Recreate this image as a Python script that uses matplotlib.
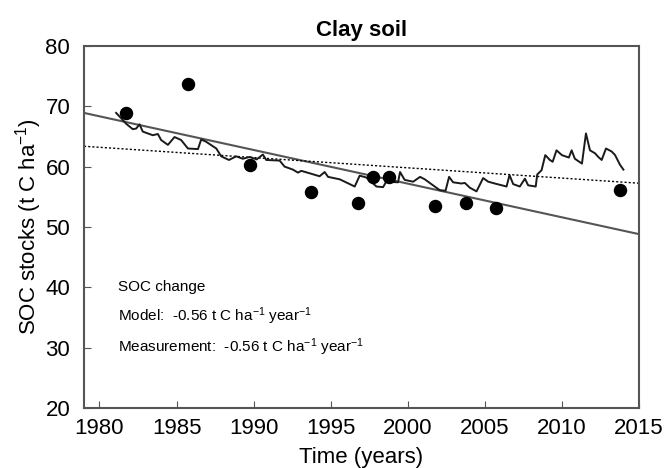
import numpy as np
import matplotlib
matplotlib.use("Agg")
import matplotlib.pyplot as plt

plt.rcParams['font.family'] = ['Liberation Sans', 'DejaVu Sans']
plt.rcParams['mathtext.fontset'] = 'custom'
plt.rcParams['mathtext.rm'] = 'Liberation Sans'
plt.rcParams['mathtext.it'] = 'Liberation Sans:italic'

# measured SOC stocks (t C ha-1)
meas_year = [1981.75, 1985.75, 1989.75, 1993.75, 1996.75, 1997.75, 1998.8,
             2001.75, 2003.75, 2005.75, 2013.75]
meas_soc = [68.9, 73.7, 60.3, 55.8, 54.0, 58.3, 58.3, 53.5, 54.0, 53.2, 56.1]

# simulated SOC stocks
model_year = [1981.08, 1981.45, 1981.73, 1982.16, 1982.38, 1982.60, 1982.81, 1983.46,
              1983.79, 1984.00, 1984.44, 1984.87, 1985.30, 1985.74, 1986.39, 1986.60,
              1986.93, 1987.58, 1987.90, 1988.40, 1988.87, 1989.30, 1989.74, 1990.20,
              1990.60, 1990.82, 1991.69, 1992.01, 1992.55, 1992.88, 1993.09, 1993.63,
              1994.28, 1994.61, 1994.83, 1995.58, 1995.91, 1996.56, 1996.88, 1997.31,
              1997.75, 1997.97, 1998.40, 1998.60, 1999.37, 1999.50, 1999.80, 2000.35,
              2000.80, 2001.10, 2001.64, 2002.08, 2002.45, 2002.68, 2002.94, 2003.48,
              2003.70, 2004.03, 2004.46, 2004.89, 2005.22, 2005.65, 2006.41, 2006.60,
              2006.84, 2007.27, 2007.60, 2007.81, 2008.30, 2008.40, 2008.68, 2008.92,
              2009.22, 2009.40, 2009.65, 2010.00, 2010.45, 2010.63, 2010.84, 2011.30,
              2011.56, 2011.82, 2012.15, 2012.36, 2012.58, 2012.86, 2013.23, 2013.45,
              2013.77, 2013.99]
model_soc = [68.9, 67.9, 67.1, 66.2, 66.3, 67.0, 65.8, 65.2,
             65.4, 64.4, 63.6, 64.9, 64.4, 63.0, 62.9, 64.5,
             64.1, 63.0, 61.7, 61.1, 61.7, 61.3, 61.6, 61.2,
             62.0, 61.1, 61.0, 60.0, 59.5, 59.0, 59.3, 58.9,
             58.4, 59.1, 58.3, 57.9, 57.5, 56.7, 58.5, 58.2,
             57.2, 56.7, 56.6, 57.5, 57.4, 59.1, 57.8, 57.5,
             58.3, 57.9, 56.9, 56.1, 56.0, 58.3, 57.4, 57.2,
             57.3, 56.5, 55.9, 58.1, 57.5, 57.2, 56.7, 58.6,
             57.1, 56.7, 58.0, 56.9, 56.7, 58.7, 59.4, 61.9,
             61.1, 60.8, 62.7, 61.9, 61.5, 62.7, 61.3, 60.5,
             65.5, 62.7, 62.2, 61.6, 61.1, 63.0, 62.5, 61.9,
             60.3, 59.5]

# model trend (dotted): value at 1980 and slope per year
model_trend_1980 = 63.2
model_trend_slope = -0.17

x_ticks = [1980, 1985, 1990, 1995, 2000, 2005, 2010, 2015]
y_ticks = [20, 30, 40, 50, 60, 70, 80]

fig = plt.figure(figsize=(6.67, 4.68), dpi=100)
ax = fig.add_axes([0.126, 0.128, 0.832, 0.774])

xx = np.array([1979, 2015])
slope, intercept = np.polyfit(meas_year, meas_soc, 1)
ax.plot(xx, intercept + slope * xx, color='#555555', lw=1.5, zorder=2)
ax.plot(xx, model_trend_1980 + model_trend_slope * (xx - 1980), color='black',
        lw=1.0, linestyle=(0, (1.5, 1.5)), zorder=2)
ax.plot(model_year, model_soc, color='#1a1a1a', lw=1.4, zorder=3)
ax.scatter(meas_year, meas_soc, s=75, color='black', zorder=4)

ax.set_xlim(1979, 2015)
ax.set_ylim(20, 80)
ax.set_xticks(x_ticks)
ax.set_yticks(y_ticks)
ax.tick_params(direction='in', length=5, color='#555555', labelsize=16)
ax.tick_params(axis='x', pad=7)
ax.tick_params(axis='y', pad=10)
for sp in ax.spines.values():
    sp.set_color('#555555')
    sp.set_linewidth(1.5)

ax.set_title('Clay soil', fontsize=16, fontweight='bold', pad=7)
ax.set_xlabel('Time (years)', fontsize=16, labelpad=6)
ax.set_ylabel('SOC stocks (t C ha$^{-1}$)', fontsize=16, labelpad=1)

ax.text(0.061, 0.334, 'SOC change', transform=ax.transAxes, fontsize=11, va='center')
ax.text(0.061, 0.254, 'Model:  -0.56 t C ha$^{-1}$ year$^{-1}$', transform=ax.transAxes,
        fontsize=11, va='center')
ax.text(0.061, 0.169, 'Measurement:  -0.56 t C ha$^{-1}$ year$^{-1}$', transform=ax.transAxes,
        fontsize=11, va='center')

fig.savefig('out.png', dpi=100)
